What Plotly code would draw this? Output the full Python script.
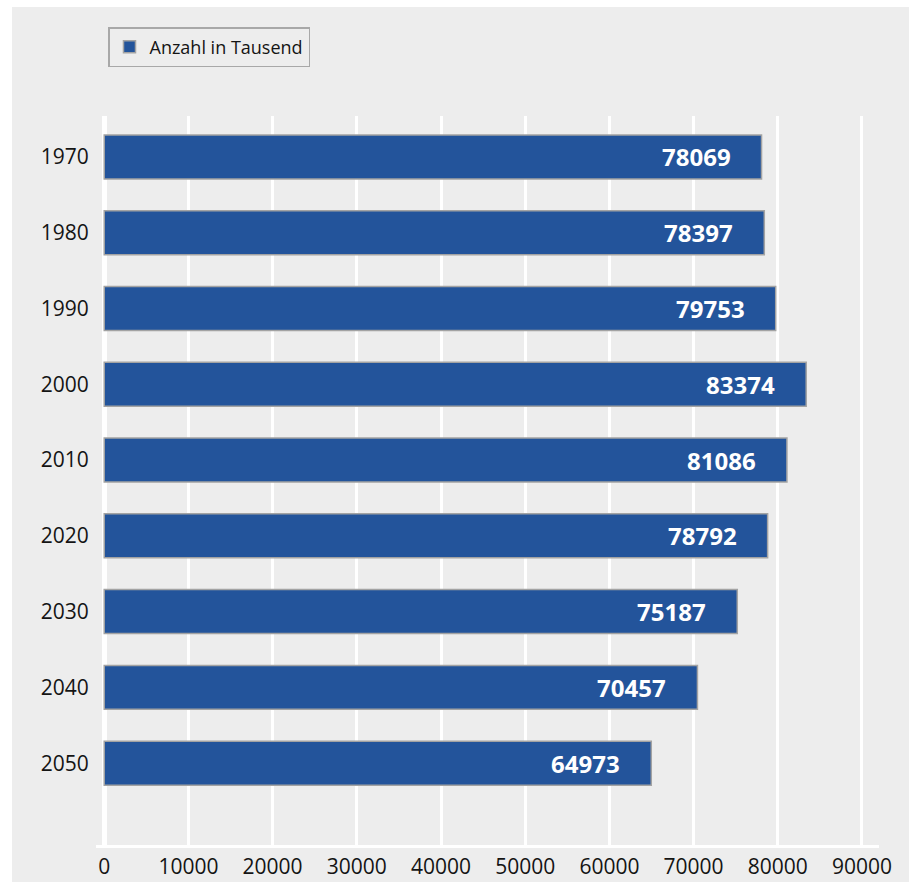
import plotly.graph_objects as go

years = ["1970", "1980", "1990", "2000", "2010", "2020", "2030", "2040", "2050"]
values = [78069, 78397, 79753, 83374, 81086, 78792, 75187, 70457, 64973]
x_ticks = [0, 10000, 20000, 30000, 40000, 50000, 60000, 70000, 80000, 90000]
series_name = "Anzahl in Tausend"

BG = "#ededed"
BAR = "#23549b"
FONT = "Open Sans"

pos = list(range(len(years)))

fig = go.Figure()
fig.add_trace(go.Bar(
    y=pos, x=values, orientation="h", name=series_name,
    marker=dict(color=BAR, line=dict(color="#a3a3a3", width=1.5)),
    width=0.58, showlegend=True, hoverinfo="skip",
))

for yv, xv in zip(pos, values):
    fig.add_annotation(x=xv, y=yv, xref="x", yref="y", text=f"<b>{xv}</b>",
                       showarrow=False, xanchor="right", yanchor="middle", xshift=-29,
                       font=dict(family=FONT, size=24, color="white"))

W, H = 909, 882
L, R, T, B = 96, 30, 116, 37
pw = W - L - R
ph = H - T - B

# white page strips (left and top)
fig.add_shape(type="rect", xref="paper", yref="paper",
              x0=-L / pw - 0.01, x1=(12 - L) / pw, y0=-1, y1=2,
              fillcolor="white", line=dict(width=0), layer="below")
fig.add_shape(type="rect", xref="paper", yref="paper",
              x0=-1, x1=2, y0=1 + (T - 7) / ph, y1=1 + T / ph + 0.05,
              fillcolor="white", line=dict(width=0), layer="below")

fig.update_layout(
    width=W, height=H,
    margin=dict(l=L, r=R, t=T, b=B, autoexpand=False),
    paper_bgcolor=BG, plot_bgcolor=BG,
    font=dict(family=FONT, size=21, color="#141414"),
    showlegend=True,
    legend=dict(x=(108 - L) / pw, y=1 + (T - 27) / ph, xanchor="left", yanchor="top",
                bgcolor=BG, bordercolor="#a8a8a8", borderwidth=1.5,
                font=dict(family=FONT, size=18, color="#141414"),
                itemclick=False, itemdoubleclick=False),
)
fig.update_xaxes(range=[-975, 92020], tickvals=x_ticks, ticktext=[str(v) for v in x_ticks],
                 showgrid=True, gridcolor="white", gridwidth=2.5,
                 zeroline=True, zerolinecolor="white", zerolinewidth=5,
                 showline=True, linecolor="white", linewidth=3,
                 ticks="outside", ticklen=1, tickcolor="rgba(0,0,0,0)",
                 tickfont=dict(family=FONT, size=21, color="#141414"), fixedrange=True)
fig.update_yaxes(tickvals=pos, ticktext=years,
                 range=[len(years) + 0.08, -0.54], showgrid=False, zeroline=False, showline=False,
                 ticks="outside", ticklen=2, tickcolor="rgba(0,0,0,0)",
                 tickfont=dict(family=FONT, size=21, color="#141414"), fixedrange=True)

fig.write_html("out.html", config={"displayModeBar": False})
